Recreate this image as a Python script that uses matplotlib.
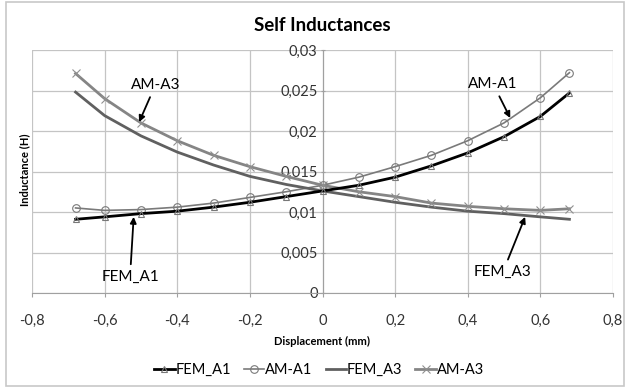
import matplotlib
matplotlib.use("Agg")
import matplotlib.pyplot as plt
from matplotlib.patches import Rectangle
from matplotlib.ticker import FuncFormatter, MultipleLocator

plt.rcParams['font.family'] = ['Lato', 'DejaVu Sans']

# displacement (mm)
displacement = [-0.68, -0.6, -0.5, -0.4, -0.3, -0.2, -0.1, 0.0,
                0.1, 0.2, 0.3, 0.4, 0.5, 0.6, 0.68]

# inductances (H)
fem_a1 = [0.0091, 0.0094, 0.0098, 0.0101, 0.0106, 0.0112, 0.0119, 0.0126,
          0.0133, 0.0143, 0.0157, 0.0173, 0.0193, 0.0218, 0.0247]
am_a1 = [0.0105, 0.0102, 0.0103, 0.0106, 0.0111, 0.0118, 0.0125, 0.0133,
         0.0143, 0.0156, 0.0170, 0.0188, 0.0210, 0.0241, 0.0272]
fem_a3 = [0.0248, 0.0219, 0.0194, 0.0174, 0.0158, 0.0144, 0.0134, 0.0126,
          0.0119, 0.0112, 0.0106, 0.0101, 0.0098, 0.0094, 0.0091]
am_a3 = [0.0271, 0.0240, 0.0210, 0.0188, 0.0170, 0.0156, 0.0144, 0.0133,
         0.0125, 0.0119, 0.0111, 0.0107, 0.0104, 0.0102, 0.0104]


def comma(v, pos):
    s = "{:g}".format(round(v, 4))
    return s.replace(".", ",")


fig = plt.figure(figsize=(6.26, 3.88), dpi=100)
ax = fig.add_axes([32 / 626, 1 - 293 / 388, 581 / 626, 243 / 388])

grid_c = '#c4c4c4'
ax.plot(displacement, fem_a1, color='black', lw=2, marker='^', ms=5,
        mfc='none', mec='#777777', mew=0.8, label='FEM_A1', zorder=4)
ax.plot(displacement, am_a1, color='#7a7a7a', lw=1.2, marker='o', ms=5.5,
        mfc='none', mec='#7a7a7a', mew=0.8, label='AM-A1', zorder=3)
ax.plot(displacement, fem_a3, color='#606060', lw=2, label='FEM_A3', zorder=3)
ax.plot(displacement, am_a3, color='#858585', lw=2, marker='x', ms=6,
        mec='#909090', mew=0.8, label='AM-A3', zorder=3)

ax.set_xlim(-0.8, 0.8)
ax.set_ylim(0, 0.03)
ax.xaxis.set_major_locator(MultipleLocator(0.2))
ax.yaxis.set_major_locator(MultipleLocator(0.005))
ax.xaxis.set_major_formatter(FuncFormatter(comma))
ax.yaxis.set_major_formatter(FuncFormatter(comma))
ax.grid(True, color=grid_c, lw=0.9)
ax.set_axisbelow(True)

for side in ['top', 'right']:
    ax.spines[side].set_visible(False)
ax.spines['left'].set_position(('data', 0))
ax.spines['left'].set_color('#a0a0a0')
ax.spines['bottom'].set_color('#a0a0a0')
ax.tick_params(axis='x', length=3, pad=12, color='#a0a0a0',
               labelsize=10.5, labelcolor='#333333')
ax.tick_params(axis='y', length=3, direction='inout', pad=2, color='#a0a0a0',
               labelsize=10.5, labelcolor='#333333')

ax.set_title('Self Inductances', fontsize=13.5, fontweight='bold', pad=14)
ax.set_xlabel('Displacement (mm)', fontsize=8, fontweight='bold', labelpad=6)
fig.text(25 / 626, 1 - 170 / 388, 'Inductance (H)', rotation=90,
         fontsize=8, fontweight='bold', ha='center', va='center')

arrow = dict(arrowstyle='-|>', color='black', lw=1.3, mutation_scale=9,
             shrinkA=2, shrinkB=0)
ax.annotate('AM-A3', xy=(-0.505, 0.0211), xytext=(-0.46, 0.0257),
            ha='center', va='center', fontsize=11, arrowprops=arrow)
ax.annotate('AM-A1', xy=(0.517, 0.0216), xytext=(0.47, 0.0258),
            ha='center', va='center', fontsize=11, arrowprops=arrow)
ax.annotate('FEM_A1', xy=(-0.52, 0.0094), xytext=(-0.53, 0.0020),
            ha='center', va='center', fontsize=11, arrowprops=arrow)
ax.annotate('FEM_A3', xy=(0.558, 0.0094), xytext=(0.497, 0.0026),
            ha='center', va='center', fontsize=11, arrowprops=arrow)

fig.legend(loc='center', bbox_to_anchor=(319 / 626, 1 - 370 / 388), ncol=4,
           frameon=False, fontsize=10.5, handlelength=1.4, handletextpad=0.05,
           columnspacing=0.9, borderpad=0.2)

fig.patches.append(Rectangle((6 / 626, 2 / 388), 618 / 626, 384 / 388,
                             transform=fig.transFigure, fill=False,
                             edgecolor='#c8c8c8', lw=1.2))

fig.savefig('out.png', dpi=100)
